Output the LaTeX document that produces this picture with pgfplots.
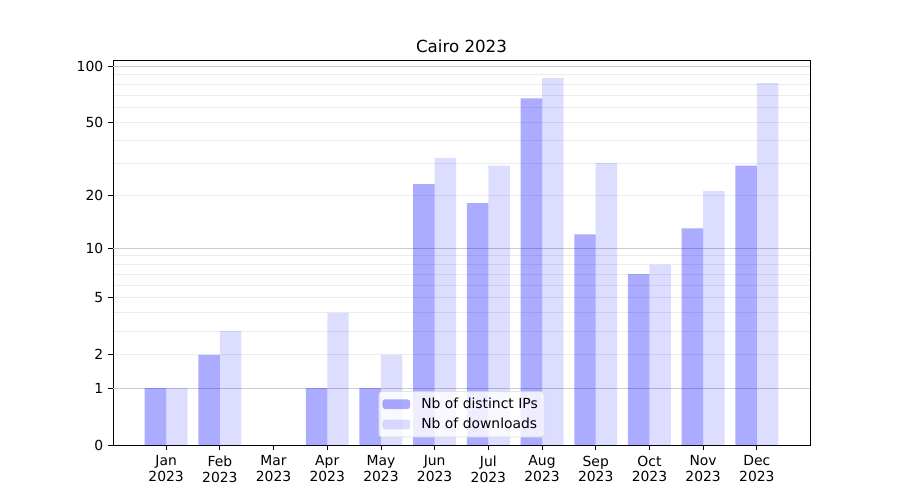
\documentclass[border=0pt]{standalone}
\usepackage{pgfplots}
\pgfplotsset{compat=1.18}
\usepackage{pgfplotstable}
\usepackage{fontspec}
\setmainfont{DejaVu Sans}

% one month per row: distinct IPs and downloads
\pgfplotstableread{
x ips dl
0 1 1
1 2 3
2 0 0
3 1 4
4 1 2
5 23 32
6 18 29
7 67 86
8 12 30
9 7 8
10 13 21
11 29 81
}\cairo

\newcommand{\mlab}[1]{\vphantom{Jg}#1\\2023}

\begin{document}
\begin{tikzpicture}
    % page = 900x500 px at 0.72pt per px, axis box lower left at (113,445) px
    \path[use as bounding box] (-81.36pt,-39.6pt) rectangle (566.64pt,320.4pt);
    \begin{axis}[
        scale only axis,
        width            = 501.84pt,
        height           = 277.2pt,
        xmin             = -0.99,
        xmax             = 11.99,
        ymin             = 0,
        ymax             = 2.036,
        /pgf/number format/assume math mode = true,
        font             = \fontsize{10}{12}\selectfont,
        title            = {Cairo 2023},
        title style      = {font=\fontsize{12}{14}\selectfont, yshift=-4pt},
        xtick            = {0,1,...,11},
        xticklabels      = {{\mlab{Jan}},{\mlab{Feb}},{\mlab{Mar}},{\mlab{Apr}},{\mlab{May}},{\mlab{Jun}},
                            {\mlab{Jul}},{\mlab{Aug}},{\mlab{Sep}},{\mlab{Oct}},{\mlab{Nov}},{\mlab{Dec}}},
        xticklabel style = {align=center, anchor=north, inner sep=0pt, yshift=-4pt,
                            font=\fontsize{10}{11.5}\selectfont},
        ytick            = {0,0.30103,0.47712,0.77815,1.04139,1.32222,1.70757,2.00432},
        yticklabels      = {0,1,2,5,10,20,50,100},
        minor ytick      = {0.47712,0.60206,0.69897,0.77815,0.84510,0.90309,0.95424,1.0,
                            1.32222,1.49136,1.61278,1.70757,1.78533,1.85126,1.90849,1.95904},
        yminorgrids,
        minor grid style = {gray!15, line width=0.6pt},
        minor tick length= 0pt,
        extra y ticks    = {0.30103,1.04139,2.00432},
        extra y tick labels = {},
        extra y tick style  = {ymajorgrids, major tick length=0pt,
                               major grid style={gray!40, line width=0.6pt}},
        tick align       = outside,
        major tick length= 3.5pt,
        xtick pos        = bottom,
        ytick pos        = left,
        tick style       = {black, line width=0.6pt},
        axis line style  = {line width=0.6pt},
        bar width        = 0.4,
        legend style     = {at={(0.5,0.02)}, anchor=south, draw=gray!30,
                            rounded corners=2pt, fill=white, fill opacity=0.8,
                            text opacity=1, font=\fontsize{10}{12}\selectfont,
                            row sep=1.5pt, inner sep=2.5pt},
        legend cell align = left,
        legend image code/.code = {\fill[#1] (0pt,-3.5pt) rectangle (20pt,3.5pt);
                                   \path (26pt,0pt);},
    ]
        \addplot[ybar, bar shift=-0.2, fill=blue, fill opacity=0.33, draw=none]
            table[x=x, y expr={log10(1+\thisrow{ips})}] {\cairo};
        \addlegendentry{Nb of distinct IPs}
        \addplot[ybar, bar shift=0.2, fill=blue, fill opacity=0.135, draw=none]
            table[x=x, y expr={log10(1+\thisrow{dl})}] {\cairo};
        \addlegendentry{Nb of downloads}
    \end{axis}
\end{tikzpicture}
\end{document}
